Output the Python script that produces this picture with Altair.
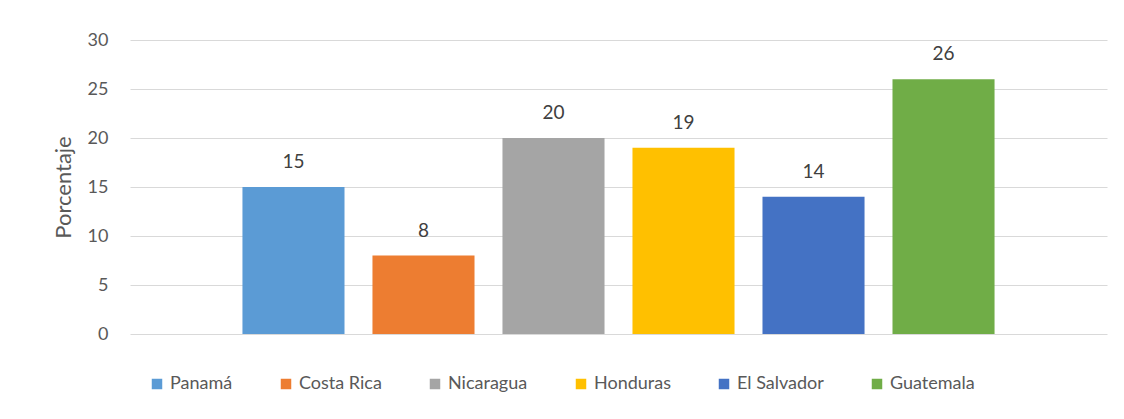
import altair as alt
import pandas as pd

countries = ["Panamá", "Costa Rica", "Nicaragua", "Honduras", "El Salvador", "Guatemala"]
values = [15, 8, 20, 19, 14, 26]
colors = ["#5B9BD5", "#ED7D31", "#A5A5A5", "#FFC000", "#4472C4", "#70AD47"]
y_ticks = [0, 5, 10, 15, 20, 25, 30]

df = pd.DataFrame({"pais": countries, "valor": values})

x = alt.X("pais:N", sort=countries, axis=None,
          scale=alt.Scale(paddingInner=0.215, paddingOuter=0.865))

base = alt.Chart(df)

bars = base.mark_bar().encode(
    x=x,
    y=alt.Y("valor:Q", scale=alt.Scale(domain=[0, 30], nice=False),
            axis=alt.Axis(title="Porcentaje", values=y_ticks, grid=True, domain=False,
                          ticks=False, labelPadding=22, titlePadding=12,
                          gridColor="#D9D9D9", gridWidth=1,
                          labelColor="#595959", labelFontSize=18, labelFont="Lato",
                          titleColor="#595959", titleFontSize=22, titleFont="Lato",
                          titleFontWeight="normal")),
    color=alt.Color("pais:N", sort=countries,
                    scale=alt.Scale(domain=countries, range=colors),
                    legend=alt.Legend(title=None, orient="none", direction="horizontal",
                                      legendX=18, legendY=294 + 41,
                                      symbolType="square", symbolSize=110,
                                      symbolStrokeWidth=0, labelFont="Lato",
                                      labelFontSize=18, labelColor="#595959",
                                      columnPadding=44, labelOffset=4)),
)

labels = base.mark_text(baseline="bottom", dy=-15, fontSize=19, font="Lato",
                        color="#404040").encode(
    x=x,
    y=alt.Y("valor:Q"),
    text=alt.Text("valor:Q"),
)

chart = (bars + labels).properties(
    width=977, height=294,
    autosize=alt.AutoSizeParams(type="none"),
    padding={"left": 122, "top": 32, "right": 9, "bottom": 77},
).configure(background="white").configure_view(stroke=None)

chart.save("out.html", embed_options={"renderer": "svg", "actions": False})
